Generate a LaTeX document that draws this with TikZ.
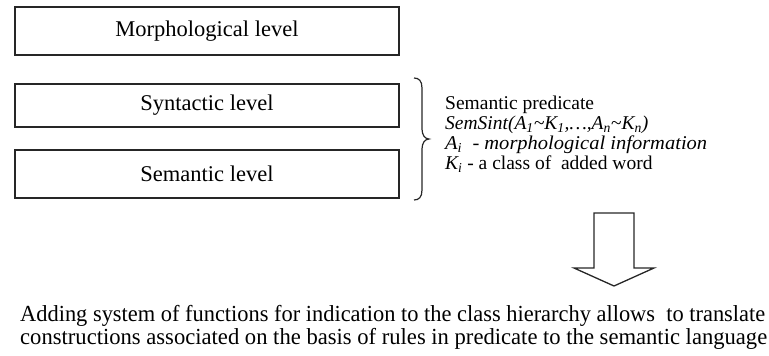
\documentclass[tikz,border=0pt]{standalone}
\usepackage{fontspec}
\setmainfont{Liberation Serif}
\usepackage{graphicx}
\begin{document}
\begin{tikzpicture}[x=1pt,y=-1pt,
  levelbox/.style={draw=black!85,line width=2pt,minimum width=384pt,inner sep=0pt,
    font=\fontsize{22.5}{24}\selectfont},
  note/.style={align=left,inner sep=0pt,font=\fontsize{19.5}{20}\selectfont},
  thinline/.style={draw=black!85,line width=1.3pt,line join=miter},
  conclusion/.style={anchor=base west,inner sep=0pt,font=\fontsize{23}{24}\selectfont}]
  \useasboundingbox (0,0) rectangle (769,356);

  % the three analysis levels
  \node[levelbox,minimum height=48pt] (morph) at (207,31) {Morphological level};
  \node[levelbox,minimum height=43pt] (synt)  at (207,105.5) {Syntactic level};
  \node[levelbox,minimum height=48pt] (sem)   at (207,174) {Semantic level};

  % brace grouping the syntactic and semantic levels
  \coordinate (bt) at (414,78);
  \coordinate (bb) at (414,200);
  \coordinate (bm) at (429,139);
  \draw[thinline,line width=1.2pt]
    (bt) .. controls (419,78) and (422,81) .. (422,88)
    -- (422,129) .. controls (422,135) and (425,139) .. (bm)
    .. controls (425,139) and (422,143) .. (422,149)
    -- (422,190) .. controls (422,197) and (419,200) .. (bb);

  % predicate description
  \node[note,anchor=base west] (pred) at (445,109) {Semantic predicate};
  \node[note,anchor=base west] (sint) at (445,129)
    {\textit{SemSint(A\textsubscript{1}\textasciitilde K\textsubscript{1},\ldots,A\textsubscript{n}\textasciitilde K\textsubscript{n})}};
  \node[note,anchor=base west] (ai) at (445,149)
    {\resizebox{262pt}{\height}{\textit{A\textsubscript{i}~ - morphological information}}};
  \node[note,anchor=base west] (ki) at (445,169)
    {\textit{K\textsubscript{i}} - a class of~ added word};

  % hollow arrow pointing down
  \draw[thinline] (594,213) -- (634,213) -- (634,268) -- (654,268) -- (614,286)
    -- (574,268) -- (594,268) -- cycle;

  % conclusion
  \node[conclusion] (l1) at (20,321)
    {\resizebox{745pt}{\height}{Adding system of functions for indication to the class hierarchy allows~ to translate}};
  \node[conclusion] (l2) at (20,344)
    {\resizebox{747pt}{\height}{constructions associated on the basis of rules in predicate to the semantic language}};
\end{tikzpicture}
\end{document}
